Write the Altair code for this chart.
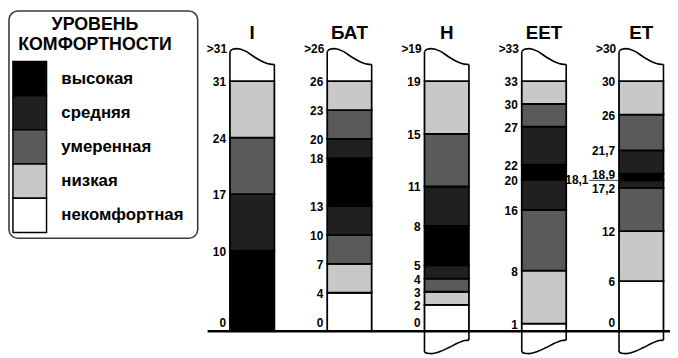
import altair as alt
import pandas as pd

FONT = "Liberation Sans"

# ---------------- data ----------------
COLS = ["I", "БАТ", "Н", "ЕЕТ", "ЕТ"]
LEVELS = ["высокая", "средняя", "умеренная", "низкая", "некомфортная"]
COLORS = ["#000000", "#202020", "#5a5a5a", "#c8c8c8", "#ffffff"]

bounds_I = [0, 10, 17, 24, 31]
levels_I = ["высокая", "средняя", "умеренная", "низкая"]

bounds_BAT = [0, 4, 7, 10, 13, 18, 20, 23, 26]
levels_BAT = ["некомфортная", "низкая", "умеренная", "средняя", "высокая", "средняя", "умеренная", "низкая"]

bounds_N = [0, 2, 3, 4, 5, 8, 11, 15, 19]
levels_N = ["некомфортная", "низкая", "умеренная", "средняя", "высокая", "средняя", "умеренная", "низкая"]

bounds_EET = [0, 1, 8, 16, 20, 22, 27, 30, 33]
levels_EET = ["некомфортная", "низкая", "умеренная", "средняя", "высокая", "средняя", "умеренная", "низкая"]

bounds_ET = [0, 6, 12, 17.2, 18.1, 18.9, 21.7, 26, 30]
levels_ET = ["некомфортная", "низкая", "умеренная", "средняя", "высокая", "средняя", "умеренная", "низкая"]

has_tail = [False, False, True, True, True]
leader_values = {"ЕТ": [18.1]}
unlabelled = {"ЕЕТ": [0]}

# decorative outline (wave on top, tail below): (position across column 0..1, offset px)
wave_u = [0, 0.06, 0.16, 0.35, 0.55, 0.75, 0.9, 1]
wave_top = [30, 32.3, 33, 30.5, 24.5, 19.5, 17.3, 17]
wave_tail = [21, 22.3, 22.7, 20.5, 16.5, 12, 9.5, 9]

ALL_BOUNDS = [bounds_I, bounds_BAT, bounds_N, bounds_EET, bounds_ET]
ALL_LEVELS = [levels_I, levels_BAT, levels_N, levels_EET, levels_ET]


def fmt(v):
    if float(v).is_integer():
        return str(int(v))
    return str(v).replace(".", ",")


seg_rows, lab_rows, top_rows, curve_rows, edge_rows = [], [], [], [], []
for i, (c, b, lv) in enumerate(zip(COLS, ALL_BOUNDS, ALL_LEVELS)):
    top = b[-1]
    for lo, hi, l in zip(b[:-1], b[1:], lv):
        seg_rows.append(dict(col=c, i=i, lo=lo, hi=hi, level=l, top=top))
    for v in b:
        if v in unlabelled.get(c, []):
            continue
        kind = "zero" if v == 0 else ("lead" if v in leader_values.get(c, []) else "mid")
        lab_rows.append(dict(col=c, i=i, v=v, top=top, label=fmt(v), kind=kind))
    top_rows.append(dict(col=c, i=i, label=">" + fmt(top)))
    parts = [("top", wave_top)] + ([("tail", wave_tail)] if has_tail[i] else [])
    for part, offs in parts:
        for u, o in zip(wave_u, offs):
            curve_rows.append(dict(gid=f"{c}-{part}", i=i, part=part, u=u, off=o))
        edge_rows.append(dict(i=i, part=part, side=0, off=offs[0]))
        edge_rows.append(dict(i=i, part=part, side=1, off=offs[-1]))

seg_df = pd.DataFrame(seg_rows)
lab_df = pd.DataFrame(lab_rows)
top_df = pd.DataFrame(top_rows)
curve_df = pd.DataFrame(curve_rows)
edge_df = pd.DataFrame(edge_rows)
title_df = pd.DataFrame({"col": COLS, "i": list(range(len(COLS)))})
legend_df = pd.DataFrame({"level": LEVELS, "r": list(range(len(LEVELS)))})
zero_df = pd.DataFrame({"z": [0]})

# ---------------- scales ----------------
PX = 253.0  # px per normalised unit
xs = alt.Scale(domain=[-2.51, 4.2955], nice=False, zero=False)
ys = alt.Scale(domain=[-0.0988, 1.2846], nice=False, zero=False)
cs = alt.Scale(domain=LEVELS, range=COLORS)
HALF = 0.2285


def X(f):
    return alt.X(f, scale=xs, axis=None)


def Y(f):
    return alt.Y(f, scale=ys, axis=None)


base_x = "datum.i - %f" % HALF

segments = alt.Chart(seg_df).transform_calculate(
    xl=base_x, xr="datum.i + %f" % HALF,
    y0="datum.lo / datum.top", y1="datum.hi / datum.top",
).mark_rect(stroke="black", strokeWidth=1.8).encode(
    x=X("xl:Q"), x2="xr:Q", y=Y("y0:Q"), y2="y1:Q",
    color=alt.Color("level:N", scale=cs, legend=None),
)

baseline = alt.Chart(zero_df).mark_rule(color="black", strokeWidth=2.6).encode(
    x=alt.value(202), x2=alt.value(670), y=Y("z:Q")
)

edges = alt.Chart(edge_df).transform_calculate(
    xx="datum.i + (datum.side - 0.5) * %f" % (2 * HALF),
    ya="datum.part == 'top' ? 1 : 0",
    yb="datum.part == 'top' ? 1 + datum.off / %f : -datum.off / %f" % (PX, PX),
).mark_rule(color="black", strokeWidth=1.6).encode(x=X("xx:Q"), y=Y("ya:Q"), y2="yb:Q")

curves = alt.Chart(curve_df).transform_calculate(
    xx="datum.i + (datum.u - 0.5) * %f" % (2 * HALF),
    yy="datum.part == 'top' ? 1 + datum.off / %f : -datum.off / %f" % (PX, PX),
).mark_line(color="black", strokeWidth=1.6, interpolate="monotone").encode(
    x=X("xx:Q"), y=Y("yy:Q"), detail="gid:N", order="u:Q",
)

lab_base = alt.Chart(lab_df).transform_calculate(xl=base_x, yy="datum.v / datum.top")
TXT = dict(font=FONT, fontSize=12, fontWeight="bold", align="right")

labels_mid = lab_base.transform_filter("datum.kind == 'mid'").mark_text(
    baseline="middle", dx=-4, dy=1, **TXT
).encode(x=X("xl:Q"), y=Y("yy:Q"), text="label:N")

labels_zero = lab_base.transform_filter("datum.kind == 'zero'").mark_text(
    baseline="bottom", dx=-4, dy=-1, **TXT
).encode(x=X("xl:Q"), y=Y("yy:Q"), text="label:N")

lead_base = lab_base.transform_filter("datum.kind == 'lead'").transform_calculate(xlead="datum.xl - 0.305")
leader_rule = lead_base.mark_rule(color="#444", strokeWidth=1).encode(
    x=X("xlead:Q"), x2="xl:Q", y=Y("yy:Q")
)
leader_text = lead_base.mark_text(baseline="middle", dx=-1, **TXT).encode(
    x=X("xlead:Q"), y=Y("yy:Q"), text="label:N"
)

top_labels = alt.Chart(top_df).transform_calculate(xl=base_x, yy="1.13").mark_text(
    baseline="middle", dx=-3, **TXT
).encode(x=X("xl:Q"), y=Y("yy:Q"), text="label:N")

titles = alt.Chart(title_df).mark_text(
    font=FONT, fontSize=19, fontWeight="bold", align="center", baseline="alphabetic"
).encode(x=X("i:Q"), y=alt.value(29), text="col:N")

# ---------------- legend ----------------
ly = alt.Scale(domain=[0, 5], range=[52, 225], nice=False, zero=False)

box = alt.Chart(zero_df).mark_rect(
    filled=False, stroke="#3a3a3a", strokeWidth=1.6, cornerRadius=9
).encode(x=alt.value(1), x2=alt.value(192), y=alt.value(1), y2=alt.value(231))

t1 = alt.Chart(pd.DataFrame({"t": ["УРОВЕНЬ"]})).mark_text(
    font=FONT, fontSize=18, fontWeight="bold", align="center", baseline="alphabetic"
).encode(x=alt.value(88), y=alt.value(20), text="t:N")
t2 = alt.Chart(pd.DataFrame({"t": ["КОМФОРТНОСТИ"]})).mark_text(
    font=FONT, fontSize=18, fontWeight="bold", align="center", baseline="alphabetic"
).encode(x=alt.value(88), y=alt.value(40), text="t:N")

leg_base = alt.Chart(legend_df).transform_calculate(r1="datum.r + 1", rc="datum.r + 0.5")
swatches = leg_base.mark_rect(stroke="black", strokeWidth=1.5).encode(
    x=alt.value(5), x2=alt.value(39),
    y=alt.Y("r:Q", scale=ly, axis=None), y2="r1:Q",
    color=alt.Color("level:N", scale=cs, legend=None),
)
leg_labels = leg_base.mark_text(
    font=FONT, fontSize=17, fontWeight="bold", align="left", baseline="middle"
).encode(x=alt.value(54), y=alt.Y("rc:Q", scale=ly, axis=None), text="level:N")

chart = alt.layer(
    segments, edges, curves, baseline, labels_mid, labels_zero,
    leader_rule, leader_text, top_labels, titles,
    box, t1, t2, swatches, leg_labels,
).resolve_scale(x="independent", y="independent").properties(
    width=670, height=350, padding=0, autosize=alt.AutoSizeParams(type="none")
).configure_view(strokeWidth=0)

chart.save("out.html", embed_options={"renderer": "svg", "actions": False})
